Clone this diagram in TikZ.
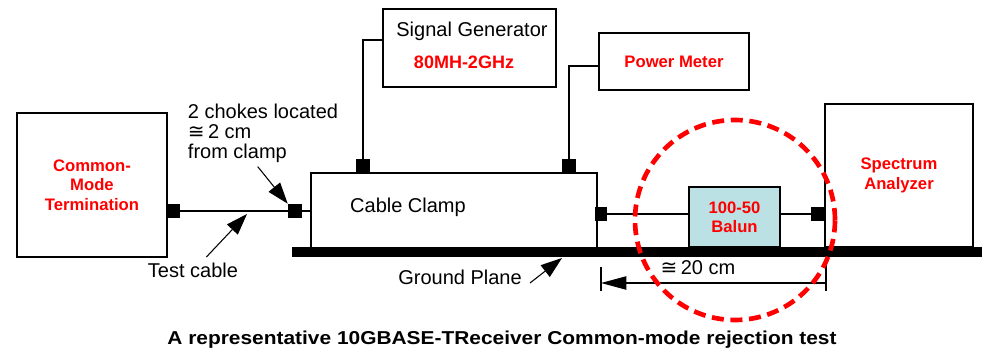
\documentclass[tikz,border=0pt]{standalone}
\usepackage{fontspec}
\usepackage{graphicx}
\setmainfont{Liberation Sans}
\newfontfamily\symfont{DejaVu Sans}
\usetikzlibrary{arrows.meta}
\definecolor{cmRed}{RGB}{255,0,0}
\definecolor{cmBalun}{RGB}{188,225,229}
\newcommand{\cmcong}{{\symfont ≅}}

\begin{document}
\begin{tikzpicture}[x=0.75pt, y=-0.75pt,
    box/.style={draw, line width=1.5pt, inner sep=0pt},
    port/.style={fill=black, minimum size=10.5pt, inner sep=0pt},
    redlbl/.style={text=cmRed, font=\fontsize{12.5}{14.5}\selectfont\bfseries, align=center},
    lbl/.style={font=\fontsize{15}{15}\selectfont, inner sep=0pt},
    wire/.style={line width=1pt},
    arr/.style={line width=0.8pt, -{Triangle[length=16pt, width=11pt]}},
    dimarr/.style={line width=0.8pt, -{Triangle[length=19pt, width=10pt]}}
  ]
    \useasboundingbox (0,0) rectangle (982,349);
    % ground plane and instruments
    \node[fill=black, minimum width=517.5pt, minimum height=7.5pt, inner sep=0pt] (gnd) at (637,252) {};
    \node[box, redlbl, minimum width=112.5pt, minimum height=108pt] (term) at (92,185) {Common-\\Mode\\Termination};
    \node[box, minimum width=214.5pt, minimum height=56.25pt] (clamp) at (454,210.5) {};
    \node[lbl] (clamptxt) at (408,207) {Cable Clamp};
    \node[box, minimum width=129.75pt, minimum height=58.5pt] (siggen) at (469.5,48) {};
    \node[lbl] (sgname) at (472,31) {Signal Generator};
    \node[text=cmRed, font=\fontsize{13.5}{15}\selectfont\bfseries] (sgfreq) at (464,62) {80MH-2GHz};
    \node[box, redlbl, minimum width=112.5pt, minimum height=42.75pt] (pwr) at (674,61.5) {Power Meter};
    \node[box, redlbl, fill=cmBalun, minimum width=68.25pt, minimum height=45pt] (balun) at (734.5,217) {100-50\\Balun};
    \node[box, redlbl, minimum width=111pt, minimum height=107.25pt] (spec) at (899,175.5) {Spectrum\\Analyzer};
    % ports
    \node[port] (p1) at (173,211) {};
    \node[port] (p2) at (295,211) {};
    \node[port] (p3) at (363,166) {};
    \node[port] (p4) at (569,166) {};
    \node[port, minimum width=9pt] (p5) at (601,214) {};
    \node[port] (p6) at (818,214) {};
    % cabling
    \draw[wire] (p1.east) -- (p2.west);
    \draw[wire] (p2.east) -- (p2.east -| clamp.west);
    \draw[wire] (p3.north) |- (siggen.west |- 0,40);
    \draw[wire] (p4.north) |- (pwr.west |- 0,66);
    \draw[wire] (p5.east) -- (p5.east -| balun.west);
    \draw[wire] (balun.east |- p6.west) -- (p6.west);
    % annotations
    \node[lbl, align=left] (chokes) at (263,133) {2 chokes located\\\cmcong\,2 cm\\from clamp};
    \node[lbl] (testtxt) at (193,270) {Test cable};
    \node[lbl] (gp) at (460,277) {Ground Plane};
    \node[lbl] (dimtxt) at (698,268) {\cmcong\,20 cm};
    \coordinate (cabtip) at (247,214);
    \coordinate (gptip) at (562,258);
    \coordinate (dimL) at (601,283);
    \coordinate (dimR) at (826,283);
    \draw[arr] ([xshift=-4pt,yshift=-3pt]chokes.south) -- (p2.north west);
    \draw[arr] ([xshift=10pt,yshift=4pt]testtxt.north) -- (cabtip);
    \draw[arr] ([xshift=6pt,yshift=-4.5pt]gp.east) -- (gptip);
    \draw[wire] (601,267) -- (601,291);
    \draw[wire] (826,262) -- (826,291);
    \draw[dimarr] (dimR) -- (dimL);
    \node[draw=cmRed, circle, line width=3.5pt, dash pattern=on 9pt off 5pt, minimum size=150pt, inner sep=0pt] (focus) at (735,220) {};
    \node[font=\fontsize{14}{16}\selectfont\bfseries] (caption) at (502,340)
      {\scalebox{1.12}[1]{A representative 10GBASE-TReceiver Common-mode rejection test}};
  \end{tikzpicture}
\end{document}
